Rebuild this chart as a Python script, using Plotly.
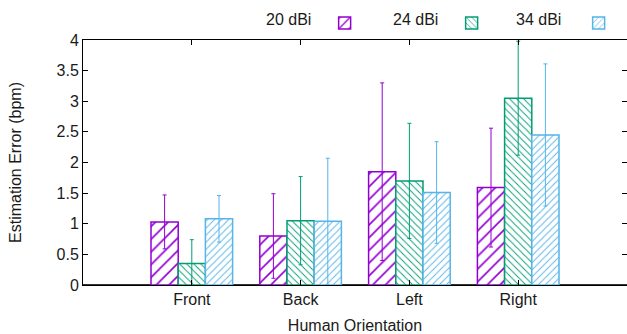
import plotly.graph_objects as go

categories = ["Front", "Back", "Left", "Right"]
series_names = ["20 dBi", "24 dBi", "34 dBi"]
values_20 = [1.03, 0.80, 1.85, 1.59]
values_24 = [0.35, 1.05, 1.70, 3.05]
values_34 = [1.08, 1.04, 1.51, 2.45]
err_20 = [0.44, 0.69, 1.45, 0.97]
err_24 = [0.39, 0.72, 0.94, 0.93]
err_34 = [0.38, 1.03, 0.83, 1.16]
y_ticks = [0, 0.5, 1, 1.5, 2, 2.5, 3, 3.5, 4]
y_tick_labels = ["0", "0.5", "1", "1.5", "2", "2.5", "3", "3.5", "4"]

colors = ["#9400D3", "#009E73", "#56B4E9"]
shapes = ["/", "\\", "/"]
psizes = [9, 5, 5]

FONT = "Liberation Sans, Arial, Helvetica, sans-serif"
FS = 16

fig = go.Figure()
x_idx = list(range(len(categories)))
for name, vals, errs, col, sh, ps in zip(series_names, [values_20, values_24, values_34],
                                        [err_20, err_24, err_34], colors, shapes, psizes):
    fig.add_trace(go.Bar(
        name=" ", hovertext=name, x=x_idx, y=vals,
        marker=dict(color="white", line=dict(color=col, width=1.5),
                    pattern=dict(shape=sh, fgcolor=col, bgcolor="white", size=ps, solidity=0.18,
                                 fillmode="replace")),
        error_y=dict(type="data", array=errs, visible=True, color=col, thickness=1, width=2),
    ))

# legend labels placed to the left of each swatch (gnuplot style)
label_right_px = [313, 440, 563]
for name, px in zip(series_names, label_right_px):
    fig.add_annotation(text=name, xref="paper", yref="paper",
                       x=(px - 83) / 544, y=(285 - 20) / 245,
                       xanchor="right", yanchor="middle", showarrow=False,
                       font=dict(family=FONT, size=FS, color="#1a1a1a"))

fig.update_layout(
    width=627, height=334,
    margin=dict(l=83, r=0, t=40, b=49, autoexpand=False),
    paper_bgcolor="white", plot_bgcolor="white",
    barmode="group", bargap=0.25, bargroupgap=0,
    font=dict(family=FONT, size=FS, color="#1a1a1a"),
    showlegend=True,
    legend=dict(orientation="h", x=0.435, xanchor="left", y=1.0, yanchor="bottom",
                font=dict(family=FONT, size=FS), bgcolor="rgba(0,0,0,0)", itemwidth=40,
                entrywidth=72, traceorder="normal"),
)
fig.update_xaxes(range=[-1, 4], tickvals=x_idx, ticktext=categories,
                 tickfont=dict(family=FONT, size=FS), automargin=False,
                 showline=True, linecolor="black", linewidth=1, mirror="ticks",
                 ticks="inside", ticklen=5, tickcolor="black", showgrid=False, zeroline=False,
                 title=dict(text="Human Orientation", standoff=12,
                            font=dict(family=FONT, size=FS)), fixedrange=True)
fig.update_yaxes(range=[0, 4], tickvals=y_ticks, ticktext=y_tick_labels,
                 tickfont=dict(family=FONT, size=FS), automargin=False,
                 showline=True, linecolor="black", linewidth=1, mirror="ticks",
                 ticks="inside", ticklen=5, tickcolor="black", showgrid=False,
                 zeroline=True, zerolinecolor="#333", zerolinewidth=2,
                 title=dict(text="Estimation Error (bpm)", standoff=30,
                            font=dict(family=FONT, size=FS)))

fig.write_html("out.html", config={"displayModeBar": False},
               post_script="document.body.style.margin='0';")
